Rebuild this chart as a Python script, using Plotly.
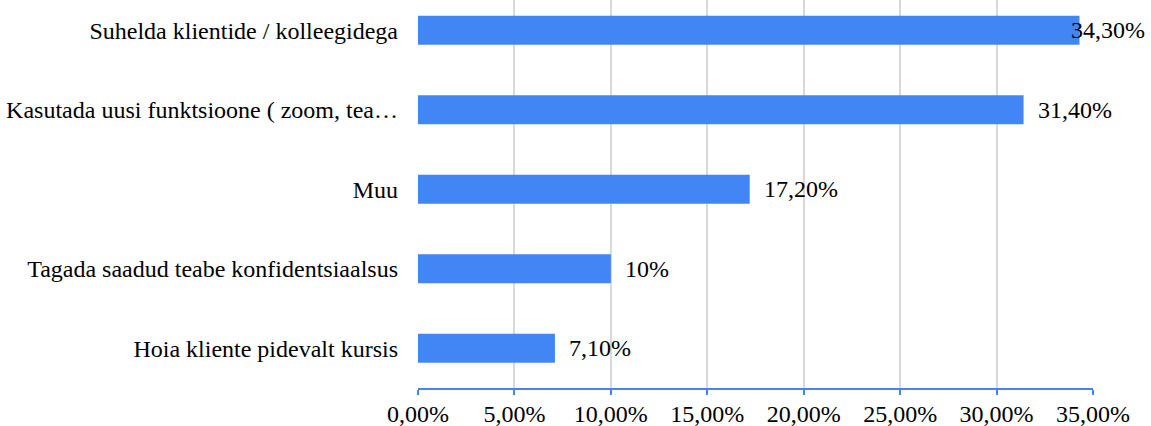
import plotly.graph_objects as go

categories = [
    "Suhelda klientide / kolleegidega",
    "Kasutada uusi funktsioone ( zoom, tea…",
    "Muu",
    "Tagada saadud teabe konfidentsiaalsus",
    "Hoia kliente pidevalt kursis",
]
values = [34.3, 31.4, 17.2, 10.0, 7.1]
value_labels = ["34,30%", "31,40%", "17,20%", "10%", "7,10%"]
tick_values = [0, 5, 10, 15, 20, 25, 30, 35]
tick_labels = ["0,00%", "5,00%", "10,00%", "15,00%", "20,00%", "25,00%", "30,00%", "35,00%"]

BLUE = "#4285F4"
FONT = "Liberation Serif, Times New Roman, serif"
FS = 24

fig = go.Figure()
fig.add_trace(go.Bar(
    x=values, y=categories, orientation="h",
    marker=dict(color=BLUE, line=dict(width=0)),
    width=0.365, hoverinfo="skip",
))

XMAX = 35
annotations = []
for cat, v, lab in zip(categories, values, value_labels):
    if v >= XMAX * 0.95:
        annotations.append(dict(x=1, xref="paper", y=cat, yref="y", text=lab,
                                xanchor="right", yanchor="middle", showarrow=False,
                                xshift=54, font=dict(family=FONT, size=FS, color="#000000")))
    else:
        annotations.append(dict(x=v, xref="x", y=cat, yref="y", text=lab,
                                xanchor="left", yanchor="middle", showarrow=False,
                                xshift=12, font=dict(family=FONT, size=FS, color="#000000")))

fig.update_layout(
    width=1151, height=426,
    margin=dict(l=418, r=58, t=0, b=38, autoexpand=False),
    paper_bgcolor="white", plot_bgcolor="white",
    showlegend=False,
    font=dict(family=FONT, size=FS, color="#000000"),
    annotations=annotations,
    xaxis=dict(
        range=[0, XMAX], tickvals=tick_values, ticktext=tick_labels,
        showgrid=True, gridcolor="#D9D9D9", gridwidth=2,
        zeroline=False, automargin=False,
        showline=True, linecolor=BLUE, linewidth=2,
        ticks="outside", tickcolor=BLUE, ticklen=5, tickwidth=2,
        ticklabelstandoff=-2,
        tickfont=dict(family=FONT, size=FS, color="#000000"),
        fixedrange=True,
    ),
    yaxis=dict(
        range=[4.5, -0.38], type="category", automargin=False,
        showgrid=False, zeroline=False, showline=False,
        ticks="", ticklabelstandoff=19,
        tickfont=dict(family=FONT, size=FS, color="#000000"),
        fixedrange=True,
    ),
)

fig.write_html("out.html", config={"displayModeBar": False},
               post_script="document.body.style.margin='0';document.body.style.padding='0';")
